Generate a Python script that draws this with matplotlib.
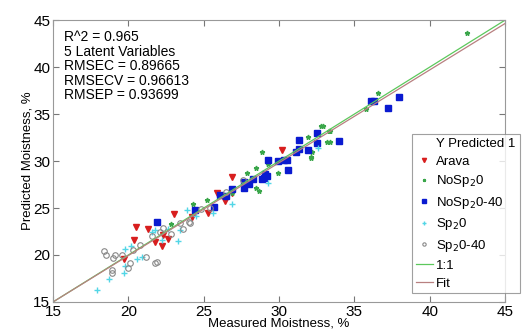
import numpy as np
import matplotlib
matplotlib.use("Agg")
import matplotlib.pyplot as plt
from matplotlib.lines import Line2D

plt.rcParams['font.family'] = ['Liberation Sans', 'DejaVu Sans']

# measured / predicted per group
arava_x = [30.2, 26.9, 26.9, 26.4, 25.3, 20.5, 21.3, 23.0, 20.4, 21.8, 22.2, 22.6, 22.3, 19.7, 24.2, 25.9]
arava_y = [31.2, 28.3, 26.6, 25.7, 24.5, 23.0, 22.8, 24.4, 21.6, 21.4, 21.0, 21.7, 22.1, 19.6, 24.0, 26.6]

nosp0_x = [42.5, 36.6, 35.8, 33.4, 33.4, 32.9, 24.3, 25.2, 22.8, 26.9, 27.9, 28.5, 28.5, 28.9, 29.3, 29.9,
           28.7, 31.9, 32.2, 32.1, 33.2, 32.8, 33.3, 32.1, 25.6]
nosp0_y = [43.6, 37.2, 35.5, 33.2, 32.0, 33.7, 25.4, 25.9, 23.3, 26.6, 28.7, 27.1, 29.3, 31.0, 29.7, 28.7,
           26.8, 32.6, 31.0, 30.4, 32.0, 33.7, 33.2, 30.3, 25.0]

nosp040_x = [36.1, 36.3, 37.2, 37.96, 33.98, 32.5, 32.5, 31.3, 31.3, 31.1, 31.9, 30.3, 30.5, 29.9, 30.6,
             29.3, 29.1, 29.2, 29.0, 28.3, 28.0, 27.7, 27.7, 26.9, 26.5, 26.1, 25.7, 21.9, 24.4, 28.9]
nosp040_y = [36.4, 36.4, 35.6, 36.8, 32.1, 33.0, 31.9, 32.2, 31.3, 31.0, 31.2, 30.1, 30.1, 30.0, 29.0,
             30.1, 28.6, 28.4, 28.2, 28.1, 27.6, 27.8, 27.1, 27.0, 26.3, 26.4, 25.1, 23.5, 24.8, 28.1]

sp0_x = [17.9, 18.7, 19.7, 19.8, 20.6, 20.9, 20.2, 19.8, 22.2, 21.6, 21.8, 23.3, 22.6, 23.4, 23.9, 26.9,
         25.6, 29.3, 32.6, 24.5]
sp0_y = [16.3, 17.4, 18.1, 18.8, 19.6, 19.8, 21.0, 20.6, 21.6, 22.4, 22.7, 21.5, 22.8, 22.7, 24.8, 25.4,
         24.5, 27.7, 31.4, 24.2]

sp040_x = [18.4, 18.5, 19.1, 19.0, 19.6, 20.3, 20.1, 20.0, 18.9, 18.9, 21.2, 21.8, 21.9, 20.8, 21.6, 22.3,
           22.1, 22.8, 23.6, 23.4, 24.0, 24.8, 25.4, 26.5, 27.6, 24.1]
sp040_y = [20.4, 20.0, 20.0, 19.7, 20.0, 20.5, 19.1, 18.6, 18.4, 18.1, 19.8, 19.1, 19.3, 21.1, 22.0, 22.9,
           22.4, 22.2, 22.8, 23.4, 23.5, 24.9, 25.0, 26.7, 28.0, 23.4]

fit_slope = 0.988
fit_icpt = 0.18

stats = ["R^2 = 0.965", "5 Latent Variables", "RMSEC = 0.89665", "RMSECV = 0.96613", "RMSEP = 0.93699"]

fig = plt.figure(figsize=(5.25, 3.3), dpi=100)
ax = fig.add_axes([0.101, 0.085, 0.861, 0.854])

ax.plot(arava_x, arava_y, 'v', color='#d81e1e', ms=5, mec='#d81e1e', label='Arava', ls='none')
ax.plot(nosp0_x, nosp0_y, '*', color='#3aa64a', ms=3.5, label='NoSp$_2$0', ls='none')
ax.plot(nosp040_x, nosp040_y, 's', color='#0a1ad0', ms=4, label='NoSp$_2$0-40', ls='none')
ax.plot(sp0_x, sp0_y, '+', color='#52d6e6', ms=5, mew=1, label='Sp$_2$0', ls='none')
ax.plot(sp040_x, sp040_y, 'o', mfc='none', mec='#888888', ms=4, mew=0.8, label='Sp$_2$0-40', ls='none')

xs = np.array([15, 45])
ax.plot(xs, xs, color='#5cc85c', lw=0.9, label='1:1')
ax.plot(xs, fit_slope * xs + fit_icpt, color='#b88080', lw=0.9, label='Fit')

ax.set_xlim(15, 45)
ax.set_ylim(15, 45)
ax.set_xticks(range(15, 46, 5))
ax.set_yticks(range(15, 46, 5))
ax.tick_params(direction='in', top=True, right=True, labelsize=11, length=4, color='#777777', pad=2)
for s in ax.spines.values():
    s.set_color('#999999')

ax.set_xlabel('Measured Moistness, %', fontsize=9.5, labelpad=-1)
ax.set_ylabel('Predicted Moistness, %', fontsize=9.5, labelpad=0)

ax.text(0.025, 0.965, "\n".join(stats), transform=ax.transAxes, va='top', ha='left',
        fontsize=10, linespacing=1.05)

handles, labels = ax.get_legend_handles_labels()
blank = Line2D([], [], ls='none', marker=None)
leg = ax.legend([blank] + handles, ['Y Predicted 1'] + labels, loc='lower left',
                bbox_to_anchor=(0.794, 0.03), fontsize=9.5, frameon=True, fancybox=False,
                handlelength=1.3, handletextpad=0.25, labelspacing=0.42, borderpad=0.3,
                borderaxespad=0, markerscale=0.6)
leg.get_frame().set_edgecolor('#888888')
leg.get_frame().set_linewidth(0.8)

fig.savefig('out.png', dpi=100)
